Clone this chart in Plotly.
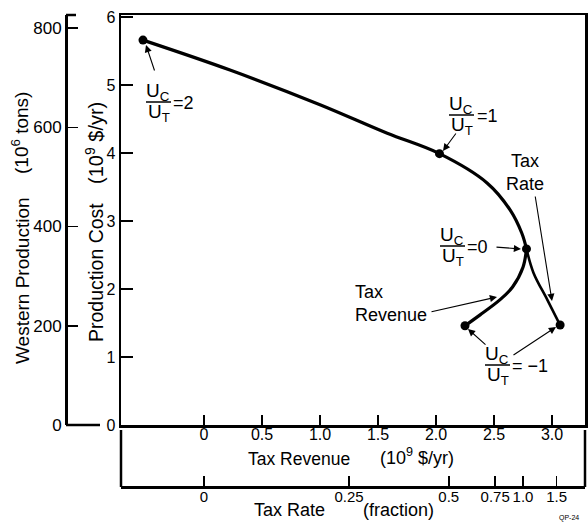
import plotly.graph_objects as go

# ---------------- data ----------------
# Upper common curve: U_C/U_T from 2 down to 0 (x = tax revenue axis units, y = production cost 10^9 $/yr)
upper_x = [-0.526, 0.224, 1.0, 1.58, 2.03, 2.44, 2.64, 2.74, 2.78]
upper_y = [5.66, 5.22, 4.71, 4.29, 3.99, 3.56, 3.16, 2.82, 2.59]
# Tax revenue branch: U_C/U_T from 0 to -1
revenue_x = [2.78, 2.75, 2.66, 2.55, 2.38, 2.25]
revenue_y = [2.59, 2.32, 2.03, 1.84, 1.62, 1.46]
# Tax rate branch: U_C/U_T from 0 to -1
rate_x = [2.78, 2.84, 2.96, 3.07]
rate_y = [2.59, 2.24, 1.84, 1.47]
# Marked points (U_C/U_T = 2, 1, 0, -1 revenue, -1 rate)
point_x = [-0.526, 2.03, 2.78, 2.25, 3.07]
point_y = [5.66, 3.99, 2.59, 1.46, 1.47]

revenue_ticks = [0, 0.5, 1.0, 1.5, 2.0, 2.5, 3.0]
revenue_ticktext = ["0", "0.5", "1.0", "1.5", "2.0", "2.5", "3.0"]
rate_ticktext = ["0", "0.25", "0.5", "0.75", "1.0", "1.5"]
rate_tick_at_revenue = [0.0, 1.25, 2.11, 2.51, 2.75, 3.04]
cost_ticks = [0, 1, 2, 3, 4, 5, 6]
production_ticks = [0, 200, 400, 600, 800]

# ---------------- layout helpers ----------------
W, H = 588, 525
PL, PR, PT, PB = 121, 585, 15, 425          # main plot box in pixels
X0PX, XUNIT = 204, 116                       # revenue 0 position, px per unit
YUNIT = 68                                   # px per cost unit
x_range = [(PL - X0PX) / XUNIT, (PR - X0PX) / XUNIT]
y_range = [0, (PB - PT) / YUNIT]
prod_unit = (PB - 28) / 800.0
y2_range = [0, (PB - PT) / prod_unit]


def dx(px):
    return (px - X0PX) / XUNIT


def dy(py):
    return (PB - py) / YUNIT


def fx(px):
    return px / W


def fy(py):
    return 1 - py / H


FONT = "Liberation Sans"
BLACK = "#000000"

fig = go.Figure()
fig.add_trace(go.Scatter(x=upper_x, y=upper_y, mode="lines",
                         line=dict(color=BLACK, width=3.2, shape="spline"), hoverinfo="skip"))
fig.add_trace(go.Scatter(x=revenue_x, y=revenue_y, mode="lines",
                         line=dict(color=BLACK, width=3.2, shape="spline"), hoverinfo="skip"))
fig.add_trace(go.Scatter(x=rate_x, y=rate_y, mode="lines",
                         line=dict(color=BLACK, width=2.6, shape="spline"), hoverinfo="skip"))
fig.add_trace(go.Scatter(x=point_x, y=point_y, mode="markers",
                         marker=dict(color=BLACK, size=9), hoverinfo="skip"))

ann = []
shapes = []


def text(px, py, s, size=18, xanchor="center", align="center"):
    ann.append(dict(x=dx(px), y=dy(py), xref="x", yref="y", text=s, showarrow=False,
                    xanchor=xanchor, yanchor="middle", align=align,
                    font=dict(family=FONT, size=size, color=BLACK)))


def arrow(tx, ty, hx, hy):
    ann.append(dict(x=dx(hx), y=dy(hy), ax=dx(tx), ay=dy(ty), xref="x", yref="y",
                    axref="x", ayref="y", text="", showarrow=True, arrowhead=2,
                    arrowsize=1.3, arrowwidth=1.1, arrowcolor=BLACK, standoff=0))


def fraction(cx, bar_y, eq_text, eq_x):
    text(cx, bar_y - 10, "U<sub>C</sub>", size=19)
    text(cx + 1, bar_y + 11, "U<sub>T</sub>", size=19)
    shapes.append(dict(type="line", xref="x", yref="y", x0=dx(cx - 12), x1=dx(cx + 13),
                       y0=dy(bar_y), y1=dy(bar_y), line=dict(color=BLACK, width=1.5)))
    text(eq_x, bar_y + 1, eq_text, xanchor="left")


# U_C/U_T = 2
fraction(158, 102, "=2", 171)
arrow(155, 72, 146, 45)
# U_C/U_T = 1
fraction(461, 115, "=1", 475)
arrow(457, 132, 443, 151)
# U_C/U_T = 0
fraction(452, 246, "=0", 465)
arrow(495, 247, 521, 249)
# U_C/U_T = -1
fraction(497, 365, "= \u22121", 510)
arrow(487, 346, 468, 329)
arrow(512, 356, 556, 327)
# Tax Rate
text(525, 172, "Tax<br>Rate", align="center")
arrow(535, 195, 552, 301)
# Tax Revenue
text(353, 303, "Tax<br>Revenue", xanchor="left", align="left")
arrow(430, 312, 497, 297)


def ptext(px, py, s, size=18, angle=0, xanchor="center"):
    ann.append(dict(x=fx(px), y=fy(py), xref="paper", yref="paper", showarrow=False,
                    text=s, textangle=angle, xanchor=xanchor, yanchor="middle",
                    font=dict(family=FONT, size=size, color=BLACK)))


# axis titles
ptext(22, 281, "Western Production", size=19, angle=-90)
ptext(20, 133, "(10<sup>6</sup> tons)", size=19, angle=-90)
ptext(96, 272, "Production Cost", size=19.5, angle=-90)
ptext(94, 143, "(10<sup>9</sup> $/yr)", size=20, angle=-90)
ptext(299, 459, "Tax Revenue", size=17.5)
ptext(417, 456, "(10<sup>9</sup> $/yr)", size=18)
ptext(289, 510, "Tax Rate", size=18)
ptext(398, 510, "(fraction)", size=18)
ptext(557, 518, "QP-24", size=7, xanchor="left")


# frame pieces
def pline(x0, y0, x1, y1, w=2.5):
    shapes.append(dict(type="line", xref="paper", yref="paper", x0=fx(x0), y0=fy(y0),
                       x1=fx(x1), y1=fy(y1), line=dict(color=BLACK, width=w)))


pline(121, 430, 121, 487)
pline(585, 430, 585, 487)
pline(66, 15, 76, 15)
pline(66, 425, 100, 425)

tickfont = dict(family=FONT, size=16, color=BLACK)
fig.update_layout(
    width=W, height=H, margin=dict(l=0, r=0, t=0, b=0, pad=0, autoexpand=False),
    paper_bgcolor="white", plot_bgcolor="white", showlegend=False,
    font=dict(family=FONT, color=BLACK),
    annotations=ann, shapes=shapes,
    xaxis=dict(domain=[fx(PL), fx(PR)], range=x_range, anchor="y",
               tickvals=revenue_ticks, ticktext=revenue_ticktext, ticks="inside",
               ticklen=10, tickwidth=1.5, tickcolor=BLACK, tickfont=tickfont,
               tickangle=0, ticklabelstandoff=-7,
               showline=True, linecolor=BLACK, linewidth=2.5, mirror=True,
               showgrid=False, zeroline=False),
    xaxis2=dict(matches="x", anchor="free", overlaying="x", position=fy(487), side="bottom",
                tickvals=rate_tick_at_revenue, ticktext=rate_ticktext, ticks="inside",
                ticklen=10, tickwidth=1.5, tickcolor=BLACK,
                tickfont=dict(family=FONT, size=15, color=BLACK),
                tickangle=0, ticklabelstandoff=-5,
                showline=True, linecolor=BLACK, linewidth=2.5,
                showgrid=False, zeroline=False),
    yaxis=dict(domain=[fy(PB), fy(PT)], range=y_range, anchor="x",
               tickvals=cost_ticks, ticks="inside", ticklen=12, tickwidth=1.5,
               tickcolor=BLACK, tickfont=tickfont,
               showline=True, linecolor=BLACK, linewidth=2.5, mirror=True,
               showgrid=False, zeroline=False),
    yaxis2=dict(overlaying="y", anchor="free", position=fx(66), side="left",
                range=y2_range, tickvals=production_ticks, ticks="inside", ticklen=10,
                tickwidth=1.5, tickcolor=BLACK, tickfont=dict(family=FONT, size=17, color=BLACK),
                showline=True, linecolor=BLACK, linewidth=2.5,
                showgrid=False, zeroline=False),
)
# dummy trace to activate the secondary axes
fig.add_trace(go.Scatter(x=[None], y=[None], xaxis="x2", yaxis="y2", hoverinfo="skip"))

fig.write_html("out.html", config={"displayModeBar": False, "staticPlot": True},
               post_script="document.body.style.margin='0';document.body.style.overflow='hidden';")
